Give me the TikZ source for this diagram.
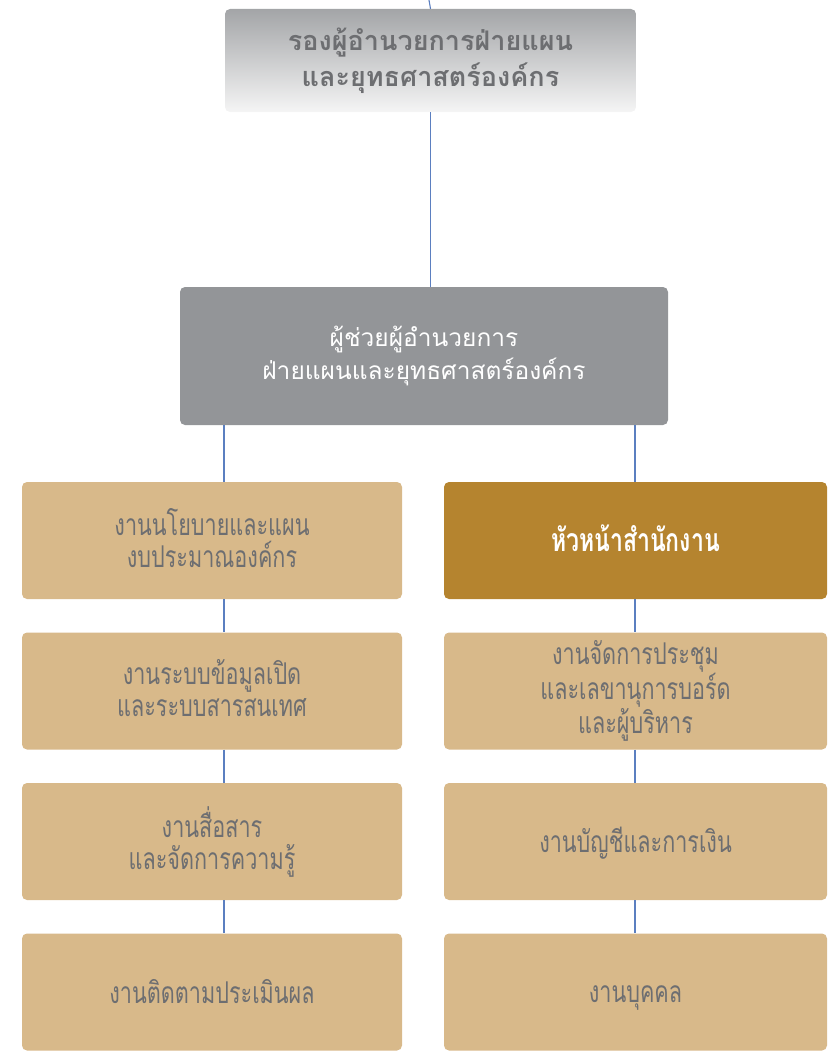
\documentclass[tikz,border=0pt]{standalone}
\usepackage{fontspec}
\newfontfamily\thaifont[Script=Thai]{Loma}
\newfontfamily\thainarrow[Script=Thai,FakeStretch=0.72]{Loma}
\definecolor{linkblue}{HTML}{5B7FC0}
\definecolor{boxgray}{HTML}{939598}
\definecolor{txtgray}{HTML}{6D6E71}
\definecolor{tan}{HTML}{D8B98A}
\definecolor{gold}{HTML}{B5842F}

\begin{document}
\begin{tikzpicture}[x=1pt, y=-1pt]
  \tikzset{
    link/.style={draw=linkblue, line width=1.1pt},
    unit/.style={rounded corners=5pt, minimum width=380pt, minimum height=117pt,
      align=center, fill=tan, text=txtgray, font=\thainarrow\fontsize{30}{32}\selectfont,
      execute at begin node={\rule{0pt}{28pt}}, execute at end node={\rule[-6pt]{0pt}{6pt}}},
    headbox/.style={unit, fill=gold, text=white, font=\thainarrow\bfseries\fontsize{32}{32}\selectfont},
  }
  \useasboundingbox (0,0) rectangle (827,1057);
  %
  \node [rounded corners=5pt, minimum width=411pt, minimum height=103pt, align=center,
    top color=boxgray!85, bottom color=white!96!black, text=txtgray,
    font=\thaifont\bfseries\fontsize{27}{36}\selectfont]
    (deputy) at (430.5, 60.5) {รองผู้อำนวยการฝ่ายแผน\\และยุทธศาสตร์องค์กร};
  \node [rounded corners=5pt, minimum width=488pt, minimum height=138pt, align=center,
    fill=boxgray, text=white, font=\thaifont\fontsize{24.5}{33}\selectfont]
    (assist) at (424, 356) {ผู้ช่วยผู้อำนวยการ\\ฝ่ายแผนและยุทธศาสตร์องค์กร};
  %
  \coordinate (topend) at (429, 0);
  \coordinate (lineL) at (224, 0);
  \coordinate (lineR) at (635, 0);
  %
  % left column
  \foreach \nm/\y/\txt in {plan/540.5/{งานนโยบายและแผน\\งบประมาณองค์กร},
                           data/691/{งานระบบข้อมูลเปิด\\และระบบสารสนเทศ},
                           comm/841.5/{งานสื่อสาร\\และจัดการความรู้},
                           eval/992/{งานติดตามประเมินผล}} {
    \node [unit] (\nm) at (212, \y) {\txt};
  }
  % right column
  \node [headbox, minimum width=383pt] (office) at (635.5, 540.5) {หัวหน้าสำนักงาน};
  \foreach \nm/\y/\txt in {meet/691/{งานจัดการประชุม\\และเลขานุการบอร์ด\\และผู้บริหาร},
                           acct/841.5/{งานบัญชีและการเงิน},
                           staff/992/{งานบุคคล}} {
    \node [unit, minimum width=383pt] (\nm) at (635.5, \y) {\txt};
  }
  %
  \draw [link] (topend) -- (deputy.north);
  \draw [link] (deputy.south) -- (assist.north -| deputy.south);
  \draw [link] (assist.south -| lineL) -- (plan.north -| lineL);
  \draw [link] (assist.south -| lineR) -- (office.north -| lineR);
  \draw [link] (plan.south -| lineL) -- (data.north -| lineL);
  \draw [link] (data.south -| lineL) -- (comm.north -| lineL);
  \draw [link] (comm.south -| lineL) -- (eval.north -| lineL);
  \draw [link] (office.south -| lineR) -- (meet.north -| lineR);
  \draw [link] (meet.south -| lineR) -- (acct.north -| lineR);
  \draw [link] (acct.south -| lineR) -- (staff.north -| lineR);
\end{tikzpicture}
\end{document}
